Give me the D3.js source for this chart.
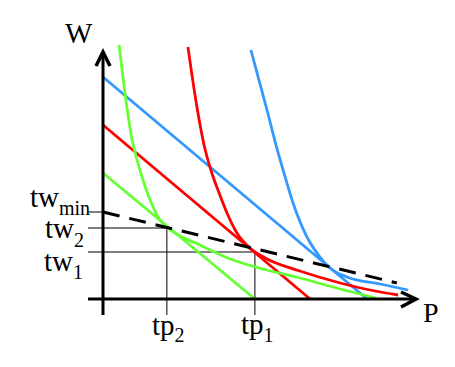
<!DOCTYPE html>
<head>
  <meta charset="UTF-8">
  <title>W P</title>
  <style>
  body{ margin: 0; background: #fff; }
  text{ font-family: "Liberation Serif", "Times New Roman", serif; fill: #000; }
  </style>
</head>
<body>
  <script src="https://cdn.jsdelivr.net/npm/d3@7"></script>
  <script type="text/javascript">
  // straight lines: [p, w] end points
  var blueLine  = [[0, 8.88], [8.52, 0]];
  var redLine   = [[0, 6.96], [6.68, 0]];
  var greenLine = [[0, 5.04], [4.90, 0]];

  // curves
  var greenCurve = [[0.52, 10.16], [0.77, 7.68], [0.94, 6.36], [1.10, 5.56], [1.29, 4.76], [1.52, 3.96],
    [1.84, 3.16], [2.10, 2.84], [3.13, 2.16], [4.19, 1.56], [5.29, 1.16], [6.35, 0.84], [7.65, 0.4], [8.81, 0.04]];
  var redCurve = [[2.74, 10.08], [3.03, 7.68], [3.26, 6.16], [3.48, 5.16], [3.77, 4.16], [4.0, 3.44],
    [4.32, 2.64], [4.74, 2.04], [5.23, 1.64], [6.35, 1.12], [7.65, 0.64], [8.61, 0.36], [9.52, 0.16]];
  var blueCurve = [[4.77, 9.96], [5.03, 8.76], [5.29, 7.56], [5.58, 6.16], [5.81, 5.16], [6.13, 3.84],
    [6.58, 2.48], [7.0, 1.68], [7.32, 1.24], [7.87, 0.88], [8.94, 0.6], [9.84, 0.36]];

  var dashLine = [[0, 3.48], [9.48, 0.64]];

  // marked levels
  var twLabels = [['tw', 'min', 3.48], ['tw', '2', 2.84], ['tw', '1', 1.88]];
  var tpLabels = [['tp', '2', 2.06, 2.84], ['tp', '1', 4.90, 1.88]];

  var width = 455, height = 367;

  var svg = d3.select('body').append('svg')
    .attr('width', width)
    .attr('height', height);

  var x = d3.scaleLinear().domain([0, 10]).range([103, 413]);
  var y = d3.scaleLinear().domain([0, 10]).range([299, 49]);

  var line = d3.line().x(function(d){ return x(d[0]); }).y(function(d){ return y(d[1]); });
  var curve = d3.line().x(function(d){ return x(d[0]); }).y(function(d){ return y(d[1]); })
    .curve(d3.curveMonotoneX);

  // thin guide lines
  twLabels.forEach(function(d, i){
    var xEnd = i == 0 ? x(0) : x(tpLabels[i - 1][2]);
    svg.append('line')
      .attr('x1', 88).attr('x2', xEnd)
      .attr('y1', y(d[2])).attr('y2', y(d[2]))
      .attr('stroke', '#000').attr('stroke-width', 1);
  });
  tpLabels.forEach(function(d){
    svg.append('line')
      .attr('x1', x(d[2])).attr('x2', x(d[2]))
      .attr('y1', y(d[3])).attr('y2', 315)
      .attr('stroke', '#000').attr('stroke-width', 1);
  });

  // coloured lines and curves
  var series = [
    [greenLine, '#66ff33', line], [redLine, '#ff0000', line], [blueLine, '#3399ff', line],
    [greenCurve, '#66ff33', curve], [redCurve, '#ff0000', curve], [blueCurve, '#3399ff', curve]
  ];
  series.forEach(function(s){
    svg.append('path')
      .attr('d', s[2](s[0]))
      .attr('fill', 'none')
      .attr('stroke', s[1])
      .attr('stroke-width', 2.8);
  });

  // dashed line
  svg.append('path')
    .attr('d', line(dashLine))
    .attr('fill', 'none')
    .attr('stroke', '#000')
    .attr('stroke-width', 3)
    .attr('stroke-dasharray', '17,10');

  // axes
  svg.append('line').attr('x1', x(0)).attr('x2', x(0)).attr('y1', 315).attr('y2', 52)
    .attr('stroke', '#000').attr('stroke-width', 3);
  svg.append('line').attr('x1', 88).attr('x2', 416).attr('y1', y(0)).attr('y2', y(0))
    .attr('stroke', '#000').attr('stroke-width', 3);
  svg.append('path').attr('d', 'M96,66L103,52L110,66')
    .attr('fill', 'none').attr('stroke', '#000').attr('stroke-width', 3.5);
  svg.append('path').attr('d', 'M401,292L416,299L401,307')
    .attr('fill', 'none').attr('stroke', '#000').attr('stroke-width', 3.5);

  svg.append('text').attr('x', 65).attr('y', 43).attr('font-size', 29).text('W');
  svg.append('text').attr('x', 423).attr('y', 322).attr('font-size', 28).text('P');

  // labels with subscripts
  var twPos = [[90, 207, 8], [84, 238, 9], [83, 271, 8]];
  twLabels.forEach(function(d, i){
    var t = svg.append('text').attr('x', twPos[i][0]).attr('y', twPos[i][1])
      .attr('text-anchor', 'end').attr('font-size', 29);
    t.append('tspan').text(d[0]);
    t.append('tspan').attr('dy', twPos[i][2]).attr('font-size', 20).text(d[1]);
  });
  var tpPos = [[152, 335, 7], [241, 334, 8]];
  tpLabels.forEach(function(d, i){
    var t = svg.append('text').attr('x', tpPos[i][0]).attr('y', tpPos[i][1]).attr('font-size', 29);
    t.append('tspan').text(d[0]);
    t.append('tspan').attr('dy', tpPos[i][2]).attr('font-size', 20).text(d[1]);
  });
  </script>
</body>
</html>
